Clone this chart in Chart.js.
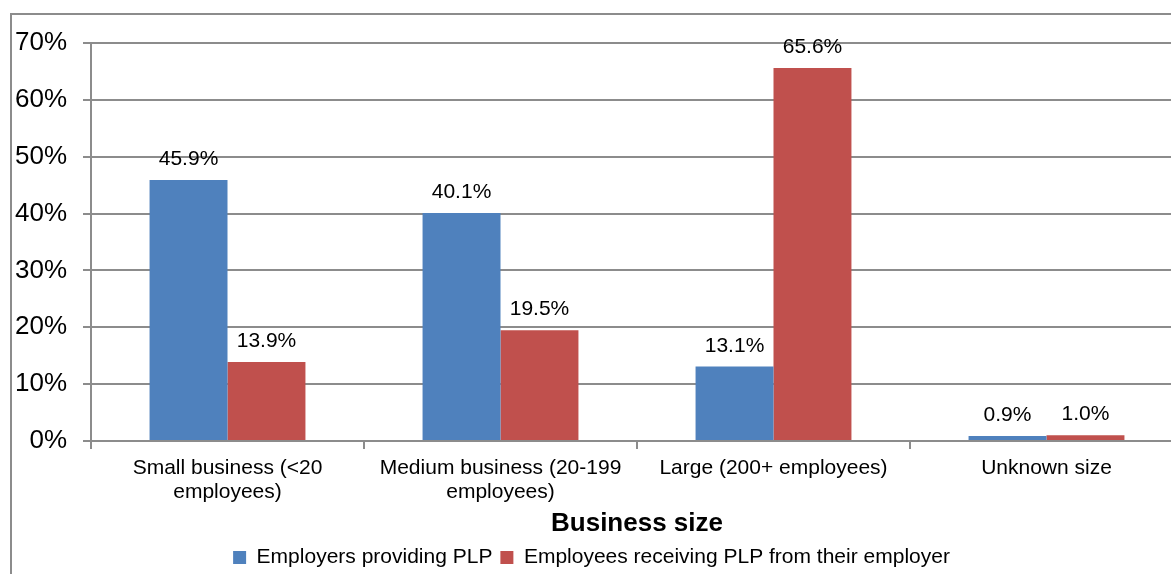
<!DOCTYPE html>
<html>
<head>
<meta charset="utf-8">
<script src="https://cdn.jsdelivr.net/npm/chart.js@4/dist/chart.umd.min.js"></script>
<style>
  html, body { margin: 0; padding: 0; background: #fff; overflow: hidden; width: 1171px; height: 574px; }
  #frame { position: absolute; left: 10px; top: 13px; width: 1300px; height: 700px; border: 2px solid #8c8c8c; box-sizing: border-box; }
  #wrap { position: absolute; left: 0; top: 0; width: 1200px; height: 578px; }
</style>
</head>
<body>
<div id="frame"></div>
<div id="wrap"><canvas id="c" width="1200" height="578"></canvas></div>
<script>
const categories = [
  ['Small business (<20', 'employees)'],
  ['Medium business (20-199', 'employees)'],
  'Large (200+ employees)',
  'Unknown size'
];
const employersProviding = [45.9, 40.1, 13.1, 0.9];
const employeesReceiving = [13.9, 19.5, 65.6, 1.0];
const yTicks = [0, 10, 20, 30, 40, 50, 60, 70];
const seriesNames = ['Employers providing PLP', 'Employees receiving PLP from their employer'];

const FONT = "'Liberation Sans', Arial, sans-serif";
const GRID = '#8c8c8c';

const valueLabels = {
  id: 'valueLabels',
  afterDatasetsDraw(chart) {
    const ctx = chart.ctx;
    ctx.save();
    ctx.font = '21px ' + FONT;
    ctx.fillStyle = '#000';
    ctx.textAlign = 'center';
    ctx.textBaseline = 'alphabetic';
    chart.data.datasets.forEach((ds, i) => {
      const meta = chart.getDatasetMeta(i);
      meta.data.forEach((el, j) => {
        ctx.fillText(ds.data[j].toFixed(1) + '%', el.x, el.y - 15);
      });
    });
    ctx.restore();
  }
};

new Chart(document.getElementById('c'), {
  type: 'bar',
  data: {
    labels: categories,
    datasets: [
      { label: seriesNames[0], data: employersProviding, backgroundColor: '#4F81BD', categoryPercentage: 0.571, barPercentage: 1.0 },
      { label: seriesNames[1], data: employeesReceiving, backgroundColor: '#C0504D', categoryPercentage: 0.571, barPercentage: 1.0 }
    ]
  },
  plugins: [valueLabels],
  options: {
    responsive: false,
    animation: false,
    devicePixelRatio: 1,
    layout: { padding: { left: 0, right: 17, top: 43, bottom: 0 } },
    plugins: {
      tooltip: { enabled: false },
      legend: {
        position: 'bottom',
        labels: {
          boxWidth: 13, boxHeight: 13, padding: 8,
          color: '#000',
          font: { family: FONT, size: 21 }
        }
      }
    },
    scales: {
      x: {
        offset: true,
        grid: { display: true, offset: true, drawOnChartArea: false, drawTicks: true, tickLength: 8, color: GRID, lineWidth: 2 },
        border: { display: true, color: GRID, width: 2 },
        ticks: { color: '#000', font: { family: FONT, size: 21, lineHeight: 1.15 }, padding: 7, maxRotation: 0, autoSkip: false },
        title: { display: true, text: 'Business size', color: '#000', font: { family: FONT, size: 26, weight: 'bold' }, padding: { top: 4, bottom: 0 } },
        afterFit(s) { s.height = 98; }
      },
      y: {
        min: 0, max: 70,
        afterBuildTicks(s) { s.ticks = yTicks.map(v => ({ value: v })); },
        grid: { color: GRID, lineWidth: 2, tickLength: 8, drawTicks: true },
        border: { display: true, color: GRID, width: 2 },
        ticks: { color: '#000', font: { family: FONT, size: 26 }, padding: 16, callback: v => v + '%' },
        afterFit(s) { s.width = 91; }
      }
    }
  }
});
</script>
</body>
</html>
